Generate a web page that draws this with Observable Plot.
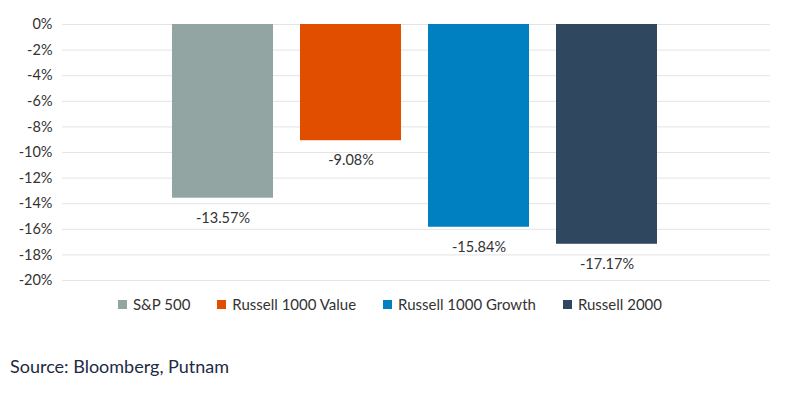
<!DOCTYPE html>
<html>
<head>
<meta charset="utf-8">
<script src="https://cdn.jsdelivr.net/npm/d3@7"></script>
<script src="https://cdn.jsdelivr.net/npm/@observablehq/plot@0.6"></script>
<style>
  body { margin: 0; background: #fff; font-family: Lato, "Noto Sans", sans-serif; }
  #chart { width: 796px; }
  .legend { display: flex; justify-content: center; align-items: center; height: 24px; padding-right: 16px;
            font-size: 15px; color: #333; gap: 27px; }
  .legend span.item { display: flex; align-items: center; }
  .legend span.sw { width: 9px; height: 9px; margin-right: 6px; display: inline-block; }
  .source { margin: 39px 0 0 10px; font-size: 18px; color: #1d2a44; }
</style>
</head>
<body>
<div id="chart"></div>
<script>
const series = ["S&P 500", "Russell 1000 Value", "Russell 1000 Growth", "Russell 2000"];
const values = [-13.57, -9.08, -15.84, -17.17];
const colors = ["#93a5a3", "#e24e00", "#0080c0", "#2f4860"];
const yTicks = [0, -2, -4, -6, -8, -10, -12, -14, -16, -18, -20];

const data = series.map((s, i) => ({series: s, value: values[i]}));

const plot = Plot.plot({
  width: 796,
  height: 292,
  marginTop: 24,
  marginBottom: 12,
  marginLeft: 62,
  marginRight: 26,
  style: {fontFamily: "Lato, 'Noto Sans', sans-serif", fontSize: "14.5px", color: "#333"},
  x: {domain: series, range: [158.5, 670.5], paddingInner: 0.21, paddingOuter: 0.105, axis: null},
  y: {domain: [-20, 0], ticks: yTicks, tickFormat: d => d + "%", tickSize: 0, tickPadding: 10, label: null},
  color: {domain: series, range: colors},
  marks: [
    Plot.ruleY(yTicks, {stroke: "#e4e4e4", strokeWidth: 1}),
    Plot.barY(data, {x: "series", y: "value", fill: "series"}),
    Plot.text(data, {x: "series", y: "value", text: d => d.value.toFixed(2) + "%", dy: 20, fill: "#333", fontSize: 14.5}),
    Plot.axisY({ticks: yTicks, tickFormat: d => d + "%", tickSize: 0, tickPadding: 10, label: null, fill: "#333"})
  ]
});
document.getElementById("chart").appendChild(plot);

const legend = document.createElement("div");
legend.className = "legend";
series.forEach((s, i) => {
  const item = document.createElement("span");
  item.className = "item";
  const sw = document.createElement("span");
  sw.className = "sw";
  sw.style.background = colors[i];
  item.appendChild(sw);
  item.appendChild(document.createTextNode(s));
  legend.appendChild(item);
});
document.getElementById("chart").appendChild(legend);

const src = document.createElement("div");
src.className = "source";
src.textContent = "Source: Bloomberg, Putnam";
document.getElementById("chart").appendChild(src);
</script>
</body>
</html>
